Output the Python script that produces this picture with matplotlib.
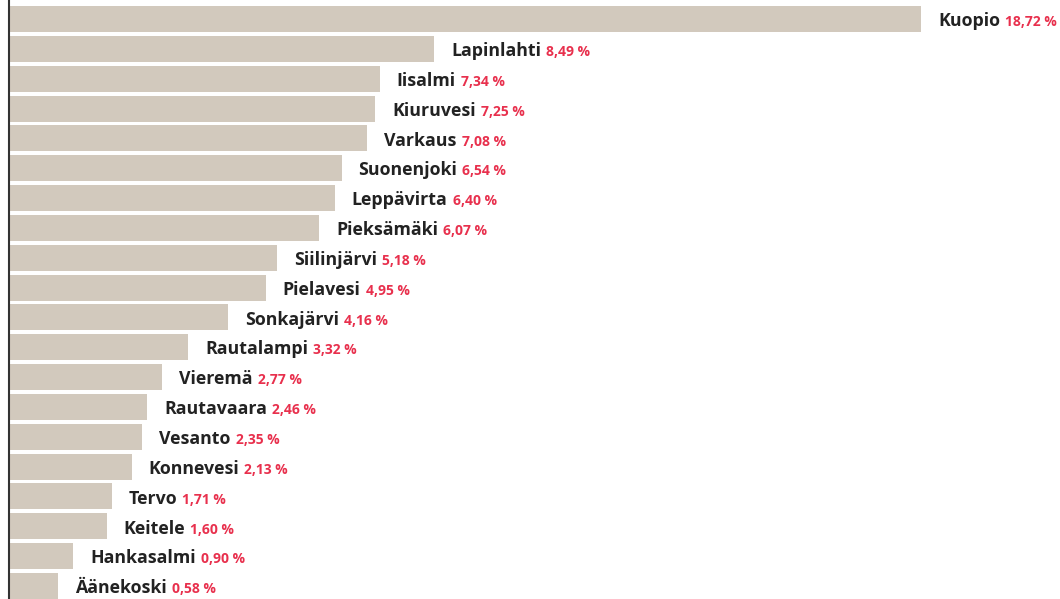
import matplotlib
matplotlib.use('Agg')
import matplotlib.pyplot as plt

# municipalities and their share (%)
names = ['Kuopio', 'Lapinlahti', 'Iisalmi', 'Kiuruvesi', 'Varkaus',
         'Suonenjoki', 'Leppävirta', 'Pieksämäki', 'Siilinjärvi', 'Pielavesi',
         'Sonkajärvi', 'Rautalampi', 'Vieremä', 'Rautavaara', 'Vesanto',
         'Konnevesi', 'Tervo', 'Keitele', 'Hankasalmi', 'Äänekoski']
shares = [18.72, 8.49, 7.34, 7.25, 7.08, 6.54, 6.40, 6.07, 5.18, 4.95,
          4.16, 3.32, 2.77, 2.46, 2.35, 2.13, 1.71, 1.60, 0.90, 0.58]
value_labels = ['18,72 %', '8,49 %', '7,34 %', '7,25 %', '7,08 %',
                '6,54 %', '6,40 %', '6,07 %', '5,18 %', '4,95 %',
                '4,16 %', '3,32 %', '2,77 %', '2,46 %', '2,35 %',
                '2,13 %', '1,71 %', '1,60 %', '0,90 %', '0,58 %']

BAR_PAD = 0.45  # bars start a little left of zero
bar_color = '#d2c9bd'
red = '#e8304d'

plt.rcParams['font.family'] = ['Open Sans', 'DejaVu Sans']

fig = plt.figure(figsize=(10.6, 5.99), dpi=100)
ax = fig.add_axes([9 / 1060, 0, 1 - 9 / 1060, 1])

ypos = list(range(len(names)))
widths = [v + BAR_PAD for v in shares]
ax.barh(ypos, widths, left=-BAR_PAD, height=0.87, color=bar_color)

ax.set_xlim(-BAR_PAD, 21.64)
ax.set_ylim(19.436, -0.637)

for y, v, name, lab in zip(ypos, shares, names, value_labels):
    t = ax.annotate(name, xy=(v, y), xytext=(12.2, -5.2),
                    textcoords='offset points', ha='left', va='baseline',
                    fontsize=12.8, fontweight='bold', color='#222222',
                    annotation_clip=False)
    ax.annotate(lab, xy=(1, y), xycoords=(t, 'data'), xytext=(3.6, -5.2),
                textcoords='offset points', ha='left', va='baseline',
                fontsize=10, fontweight='bold', color=red,
                annotation_clip=False)

for s in ['top', 'right', 'bottom']:
    ax.spines[s].set_visible(False)
ax.spines['left'].set_color('#333333')
ax.spines['left'].set_linewidth(1.5)
ax.set_xticks([])
ax.set_yticks([])

fig.savefig('out.png', dpi=100)
